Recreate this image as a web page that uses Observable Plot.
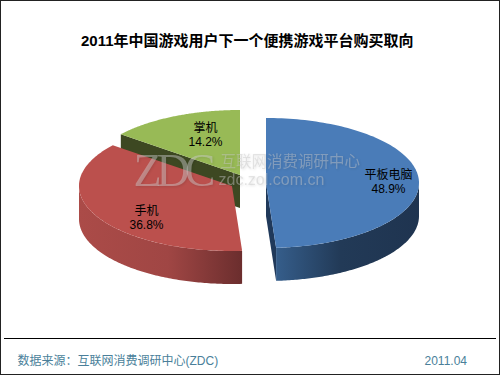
<!DOCTYPE html>
<html>
<head>
<meta charset="utf-8">
<script src="https://cdn.jsdelivr.net/npm/d3@7"></script>
<script src="https://cdn.jsdelivr.net/npm/@observablehq/plot@0.6"></script>
<style>
html,body{margin:0;padding:0;background:#fff}
svg{display:block}
.wm text{letter-spacing:-5px}
.wm,.wms{filter:drop-shadow(1px 1px 1px rgba(0,0,0,.22))}
</style>
</head>
<body>
<div id="chart"></div>
<script>
const categories = ["平板电脑", "手机", "掌机"];
const shares = [48.9, 36.8, 14.2];
const shareLabels = ["48.9%", "36.8%", "14.2%"];
const titleText = "2011年中国游戏用户下一个便携游戏平台购买取向";
const sourceText = "数据来源：互联网消费调研中心(ZDC)";
const dateText = "2011.04";
const watermarkLetters = "ZDC";
const watermarkName = "互联网消费调研中心";
const watermarkSite = "zdc.zol.com.cn";

// layout & style (kept apart from the values)
const RX = 153, RY = 65, DEPTH = 33;
const centers = [[266, 183], [232, 186], [240, 175]];
const topFill = ["#4a7cb8", "#bb504d", "#98ba56"];
const labelPos = [[388, 175], [146, 211], [205, 128]];
const FONT = '"Liberation Sans","Noto Sans CJK SC",sans-serif';

const total = d3.sum(shares);
let acc = 0;
const slices = categories.map((c, i) => {
  const a0 = acc / total * 2 * Math.PI;
  acc += shares[i];
  const a1 = i === categories.length - 1 ? 2 * Math.PI : acc / total * 2 * Math.PI;
  return {c, i, a0, a1, cx: centers[i][0], cy: centers[i][1]};
});
const pt = (s, a) => ({x: s.cx + RX * Math.sin(a), y: s.cy - RY * Math.cos(a)});
const arc = (s, a0 = s.a0, a1 = s.a1) =>
  d3.range(0, 121).map(k => pt(s, a0 + (a1 - a0) * k / 120));

const face = (s) => Plot.area(arc(s), {
  x1: () => s.cx, y1: () => s.cy, x2: "x", y2: "y", fill: topFill[s.i]
});
const rim = (s, a0, a1, fill) => Plot.area(arc(s, a0, a1), {
  x1: "x", y1: "y", x2: "x", y2: d => d.y + DEPTH, fill
});
const wall = (p, q, fill) => Plot.area([p, q], {
  x1: "x", y1: "y", x2: "x", y2: d => d.y + DEPTH, fill
});

const [blue, red, green] = slices;
const defs = () => {
  const d = d3.create("svg:defs");
  const grad = (id, x1, x2, stops) => {
    const g = d.append("linearGradient").attr("id", id)
      .attr("gradientUnits", "userSpaceOnUse")
      .attr("x1", x1).attr("x2", x2).attr("y1", 0).attr("y2", 0);
    stops.forEach(([o, c]) => g.append("stop").attr("offset", o).attr("stop-color", c));
  };
  grad("rimBlue", 277, 418, [[0, "#355d8a"], [0.45, "#223a57"], [1, "#1f3450"]]);
  grad("rimRed", 79, 241, [[0, "#ab4b48"], [0.55, "#a04644"], [1, "#6c2e2e"]]);
  return d.node();
};

const bluePt0 = pt(blue, blue.a1), greenL = pt(green, green.a0);

const marks = [
  defs,
  // green slice
  wall(greenL, {x: green.cx, y: green.cy}, "#3d4822"),
  face(green),
  // red slice
  rim(red, red.a0, 1.5 * Math.PI, "url(#rimRed)"),
  face(red),
  // blue slice: inner cut wall, outer rim, top
  wall({x: blue.cx, y: blue.cy}, bluePt0, "#20395a"),
  rim(blue, 0.5 * Math.PI, blue.a1, "url(#rimBlue)"),
  face(blue),
  // watermark
  Plot.text([watermarkLetters], {x: () => 133, y: () => 185, text: d => d, textAnchor: "start", lineAnchor: "bottom", fontFamily: '"Liberation Serif",serif', fontSize: 46, fill: "#d0d0d0", fillOpacity: 0.45, className: "wm"}),
  Plot.text([watermarkName], {x: () => 220, y: () => 162, text: d => d, textAnchor: "start", fontFamily: FONT, fontSize: 15.5, fill: "#c8c8c8", fillOpacity: 0.45, className: "wms"}),
  Plot.text([watermarkSite], {x: () => 218, y: () => 179, text: d => d, textAnchor: "start", fontFamily: FONT, fontSize: 16, fill: "#c8c8c8", fillOpacity: 0.45, className: "wms"}),
  // slice labels
  Plot.text(categories, {x: (d, i) => labelPos[i][0], y: (d, i) => labelPos[i][1], text: d => d, fontFamily: FONT, fontSize: 12, fill: "#000"}),
  Plot.text(shareLabels, {x: (d, i) => labelPos[i][0], y: (d, i) => labelPos[i][1] + 14, text: d => d, fontFamily: FONT, fontSize: 12, fill: "#000"}),
  // title
  Plot.text([titleText], {x: () => 80.5, y: () => 41, text: d => d, textAnchor: "start", fontFamily: FONT, fontSize: 15, fontWeight: "bold", fill: "#000"}),
  // footer
  Plot.ruleY([338], {x1: 4, x2: 496, stroke: "#000", strokeWidth: 1}),
  Plot.text([sourceText], {x: () => 17, y: () => 361, text: d => d, textAnchor: "start", fontFamily: FONT, fontSize: 12, fill: "#4a7f9a"}),
  Plot.text([dateText], {x: () => 424, y: () => 361, text: d => d, textAnchor: "start", fontFamily: FONT, fontSize: 12, fill: "#4a7f9a"}),
  Plot.frame({stroke: "#222", strokeWidth: 1, insetTop: 0, insetLeft: 0, insetRight: 1, insetBottom: 1})
];

const chart = Plot.plot({
  width: 500, height: 375,
  margin: 0,
  x: {domain: [0, 500], range: [0, 500], axis: null},
  y: {domain: [0, 375], range: [0, 375], axis: null},
  style: {background: "#fff"},
  marks
});
document.getElementById("chart").append(chart);
</script>
</body>
</html>
